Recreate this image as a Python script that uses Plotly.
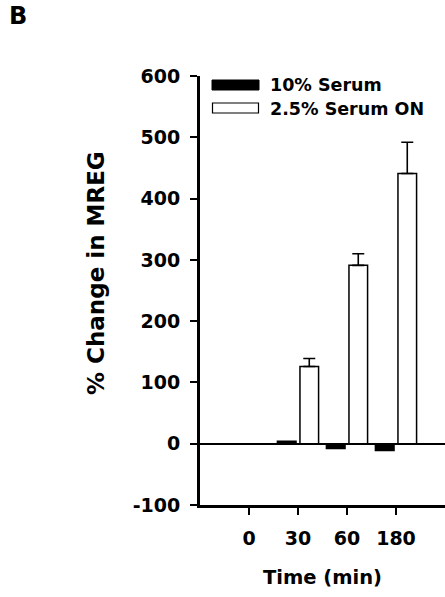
import plotly.graph_objects as go

# ---- data ----
categories = ["0", "30", "60", "180"]
serum10 = [0, 4, -8, -11]
serum25_on = [0, 126, 291, 441]
serum25_on_err = [0, 13, 19, 51]
series_names = ["10% Serum", "2.5% Serum ON"]
y_ticks = [-100, 0, 100, 200, 300, 400, 500, 600]
y_tick_labels = ["-100", "0", "100", "200", "300", "400", "500", "600"]

W, H = 445, 597
L, R, T, B = 200, 0, 76, 92
PX0, PX1, PY0, PY1 = L, W - R, T, H - B


def px(xp):
    return (xp - PX0) / (PX1 - PX0)


def py(yp):
    return (PY1 - yp) / (PY1 - PY0)


FONT = "DejaVu Sans"
xpos = list(range(len(categories)))

fig = go.Figure()
fig.add_trace(go.Bar(
    x=xpos, y=serum10, name=series_names[0],
    width=0.38, offset=-0.42,
    marker=dict(color="black", line=dict(color="black", width=1.5)),
    showlegend=False,
))
fig.add_trace(go.Bar(
    x=xpos, y=serum25_on, name=series_names[1],
    width=0.38, offset=0.04,
    marker=dict(color="white", line=dict(color="black", width=1.5)),
    error_y=dict(type="data", array=serum25_on_err, arrayminus=[0] * 4,
                 symmetric=False, color="black", thickness=1.6, width=6),
    showlegend=False,
))

fig.update_layout(
    width=W, height=H,
    margin=dict(l=L, r=R, t=T, b=B, pad=0),
    paper_bgcolor="white", plot_bgcolor="white",
    barmode="overlay",
    showlegend=False,
    font=dict(family=FONT, color="black"),
)
fig.update_xaxes(
    range=[-1, 4], tickvals=xpos, ticktext=categories,
    showline=True, linecolor="black", linewidth=3,
    ticks="outside", ticklen=7, tickwidth=2, tickcolor="black",
    showgrid=False, zeroline=False,
    tickfont=dict(family=FONT, size=19, color="black", weight="bold"),
    ticklabelstandoff=7,
)
fig.update_yaxes(
    range=[-100, 600], tickvals=y_ticks, ticktext=y_tick_labels,
    showline=True, linecolor="black", linewidth=3,
    ticks="outside", ticklen=7, tickwidth=2, tickcolor="black",
    showgrid=False, zeroline=True, zerolinecolor="black", zerolinewidth=2,
    tickfont=dict(family=FONT, size=19, color="black", weight="bold"),
    ticklabelstandoff=6,
)

anns = [
    dict(text="B", x=px(7), y=py(16), xanchor="left", yanchor="middle",
         font=dict(size=24, weight="bold")),
    dict(text="% Change in MREG", x=px(96), y=py(273), textangle=-90,
         xanchor="center", yanchor="middle", font=dict(size=23, weight="bold")),
    dict(text="Time (min)", x=px(322), y=py(577), xanchor="center",
         yanchor="middle", font=dict(size=19.5, weight="bold")),
    dict(text=series_names[0], x=px(268), y=py(85), xanchor="left",
         yanchor="middle", font=dict(size=17.5, weight="bold")),
    dict(text=series_names[1], x=px(268), y=py(109), xanchor="left",
         yanchor="middle", font=dict(size=17.5, weight="bold")),
]
for a in anns:
    a.update(xref="paper", yref="paper", showarrow=False)
    a["font"].update(family=FONT, color="black")
fig.update_layout(annotations=anns)

fig.add_shape(type="rect", xref="paper", yref="paper",
              x0=px(212), x1=px(259), y0=py(90), y1=py(80),
              fillcolor="black", line=dict(color="black", width=1))
fig.add_shape(type="rect", xref="paper", yref="paper",
              x0=px(212.5), x1=px(258.5), y0=py(113), y1=py(103),
              fillcolor="white", line=dict(color="black", width=1.2))

fig.write_html("out.html", config={"displayModeBar": False},
               post_script="document.body.style.margin='0';document.body.style.overflow='hidden';")
